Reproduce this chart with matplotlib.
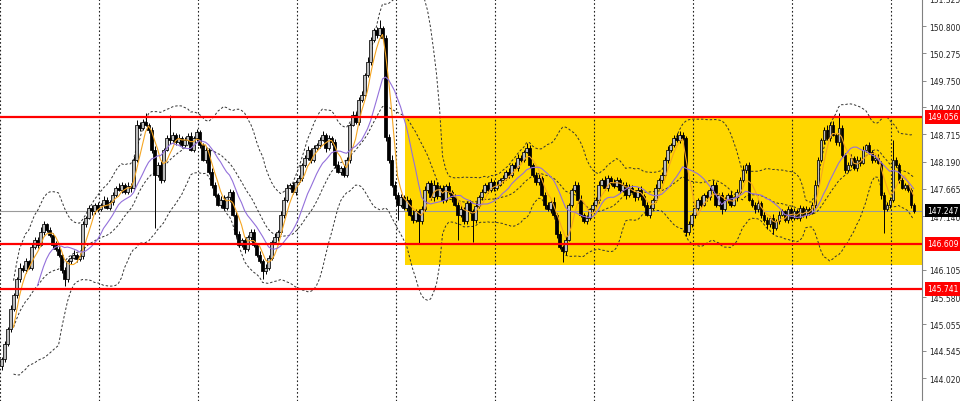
import numpy as np
import pandas as pd
import matplotlib
matplotlib.use("Agg")
import matplotlib.pyplot as plt
from matplotlib.transforms import blended_transform_factory

# close of every bar (left to right)
closes = [
    144.38, 144.67, 144.96, 145.35, 145.63, 145.92, 146.15, 146.11, 146.27, 146.15, 146.54,
    146.69, 146.59, 146.84, 146.98, 146.88, 146.77, 146.59, 146.50, 146.40, 146.11, 145.92,
    146.27, 146.34, 146.40, 146.31, 146.38, 146.98, 147.11, 147.30, 147.23, 147.36, 147.27,
    147.36, 147.46, 147.30, 147.42, 147.55, 147.69, 147.65, 147.75, 147.61, 147.73, 147.69,
    148.23, 148.90, 148.84, 148.96, 148.90, 148.80, 148.42, 147.94, 148.13, 147.84, 148.42,
    148.65, 148.61, 148.71, 148.57, 148.65, 148.51, 148.61, 148.69, 148.42, 148.65, 148.76,
    148.51, 148.23, 148.42, 148.00, 147.75, 147.55, 147.36, 147.46, 147.30, 147.50, 147.61,
    147.17, 146.79, 146.59, 146.69, 146.50, 146.73, 146.84, 146.59, 146.40, 146.27, 146.08,
    146.15, 146.34, 146.65, 146.73, 146.84, 147.17, 147.46, 147.69, 147.75, 147.61, 147.80,
    147.88, 148.13, 148.26, 148.42, 148.23, 148.46, 148.51, 148.61, 148.71, 148.46, 148.65,
    148.57, 148.13, 148.00, 148.07, 147.94, 148.23, 148.90, 149.09, 148.96, 149.38, 149.48,
    149.86, 150.11, 150.53, 150.72, 150.63, 150.76, 150.57, 148.67, 148.23, 147.75, 147.55,
    147.36, 147.50, 147.30, 147.46, 147.17, 147.07, 147.23, 147.04, 147.27, 147.65, 147.78,
    147.50, 147.75, 147.53, 147.69, 147.46, 147.73, 147.61, 147.50, 147.36, 147.17, 147.27,
    147.04, 147.40, 147.23, 147.07, 147.34, 147.50, 147.61, 147.75, 147.65, 147.80, 147.69,
    147.75, 147.84, 147.88, 148.00, 147.94, 148.13, 148.07, 148.26, 148.23, 148.38, 148.46,
    148.13, 147.94, 147.80, 147.88, 147.55, 147.36, 147.27, 147.42, 147.17, 146.79, 146.54,
    146.46, 146.69, 147.36, 147.65, 147.75, 147.46, 147.17, 147.04, 147.11, 147.27, 147.36,
    147.46, 147.75, 147.84, 147.69, 147.88, 147.78, 147.73, 147.84, 147.65, 147.75, 147.55,
    147.69, 147.61, 147.50, 147.65, 147.53, 147.36, 147.17, 147.30, 147.46, 147.69, 147.84,
    147.94, 148.23, 148.42, 148.51, 148.65, 148.61, 148.71, 148.65, 146.84, 146.98, 147.17,
    147.30, 147.46, 147.36, 147.55, 147.50, 147.65, 147.75, 147.36, 147.55, 147.27, 147.46,
    147.55, 147.36, 147.50, 147.61, 147.84, 148.03, 148.13, 147.46, 147.36, 147.27, 147.40,
    147.17, 147.07, 146.98, 147.11, 146.92, 147.04, 147.17, 147.23, 147.07, 147.27, 147.11,
    147.23, 147.11, 147.30, 147.17, 147.27, 147.21, 147.36, 147.75, 148.23, 148.61, 148.80,
    148.65, 148.90, 148.71, 148.57, 148.84, 148.32, 148.03, 148.13, 148.26, 148.07, 148.23,
    148.17, 148.42, 148.51, 148.38, 148.23, 148.26, 148.17, 147.55, 147.27, 147.36, 147.46,
    148.23, 148.13, 147.84, 147.69, 147.75, 147.65, 147.36, 147.247,
]
first_open = 144.25

# wick lengths above / below the body, in 0.01
up_wicks = [
    5, 6, 4, 7, 3, 5, 8, 4, 6, 3, 7, 5, 4, 9, 6, 3, 5, 4, 7, 6, 3, 5, 4, 6, 8, 3, 5, 7, 4, 6, 5, 3, 6,
    4, 7, 5, 3, 6, 4, 8, 5, 3, 6, 4, 7, 9, 5, 6, 17, 4, 6, 8, 5, 7, 3, 6, 44, 5, 4, 7, 3, 6, 5, 8, 4, 6,
    5, 4, 6, 3, 7, 5, 4, 6, 8, 3, 5, 4, 6, 7, 3, 5, 4, 6, 5, 3, 7, 4, 6, 5, 3, 8, 4, 6, 5, 7, 3, 5, 4,
    6, 4, 5, 7, 3, 6, 4, 5, 8, 4, 6, 3, 5, 7, 4, 6, 5, 4, 8, 5, 6, 7, 4, 9, 6, 5, 7, 16, 4, 6, 5, 8, 6,
    5, 7, 4, 6, 3, 8, 5, 4, 6, 7, 3, 5, 9, 4, 6, 5, 3, 7, 4, 6, 5, 8, 4, 3, 6, 5, 7, 4, 6, 3, 5, 8, 4,
    6, 4, 5, 3, 7, 4, 6, 8, 5, 4, 9, 6, 3, 5, 7, 4, 6, 5, 3, 8, 4, 6, 5, 7, 4, 3, 6, 5, 8, 4, 6, 3, 5,
    4, 6, 3, 7, 5, 4, 8, 6, 3, 5, 4, 7, 6, 3, 5, 8, 4, 6, 5, 3, 7, 4, 6, 5, 8, 4, 6, 9, 7, 5, 3, 6, 4,
    5, 3, 6, 4, 7, 5, 8, 4, 3, 6, 5, 4, 7, 3, 6, 5, 9, 4, 6, 3, 5, 7, 4, 6, 5, 3, 8, 4, 6, 5, 3, 7, 4,
    6, 4, 5, 3, 7, 4, 6, 8, 5, 4, 6, 9, 5, 7, 4, 29, 6, 3, 5, 8, 4, 6, 5, 7, 3, 6, 4, 5, 8, 3, 6, 5, 4,
    38, 5, 4, 6, 3, 5, 4, 3,
]
down_wicks = [
    8, 5, 4, 6, 3, 7, 5, 4, 6, 3, 5, 4, 7, 3, 6, 5, 4, 8, 3, 5, 6, 13, 4, 5, 3, 6, 4, 7, 5, 3, 6, 4, 5,
    4, 6, 3, 5, 7, 4, 3, 6, 5, 4, 8, 3, 5, 6, 4, 3, 5, 7, 102, 4, 6, 5, 3, 7, 4, 6, 3, 5, 4, 8, 3, 5, 6,
    5, 3, 6, 4, 7, 5, 3, 6, 4, 5, 8, 3, 6, 4, 5, 7, 3, 6, 4, 5, 3, 15, 6, 4, 5, 3, 7, 4, 6, 5, 3, 4, 6,
    4, 6, 5, 3, 7, 4, 5, 6, 3, 8, 4, 5, 6, 3, 7, 5, 4, 6, 3, 5, 7, 4, 6, 3, 5, 4, 6, 5, 3, 8, 6, 5, 7,
    29, 5, 4, 6, 3, 7, 4, 41, 5, 3, 6, 4, 7, 5, 3, 6, 4, 5, 8, 3, 48, 4, 6, 5, 3, 42, 6, 4, 5, 3, 7, 4, 6,
    5, 3, 6, 4, 7, 5, 3, 6, 4, 5, 3, 7, 4, 6, 5, 3, 8, 4, 6, 5, 7, 4, 21, 6, 3, 5, 4, 7, 5, 3, 6, 4, 5,
    4, 6, 3, 5, 7, 4, 5, 3, 6, 4, 8, 5, 3, 6, 4, 7, 5, 3, 6, 4, 5, 3, 7, 4, 6, 5, 3, 4, 6, 5, 9, 7, 4,
    6, 4, 5, 3, 7, 4, 6, 5, 3, 8, 4, 6, 5, 3, 7, 4, 5, 6, 3, 4, 7, 5, 6, 4, 8, 5, 13, 4, 6, 3, 5, 7, 4,
    5, 3, 6, 4, 7, 5, 3, 6, 4, 5, 8, 4, 6, 3, 5, 7, 4, 6, 3, 5, 4, 6, 7, 3, 5, 4, 6, 5, 3, 7, 45, 4, 6,
    5, 4, 6, 3, 5, 4, 6, 5,
]

level_prices = [149.056, 146.609, 145.741]
bid_price = 147.247
zone_top = 149.056
zone_bottom = 146.19
zone_start_bar = 134.5
ytick_values = [151.325, 150.800, 150.275, 149.750, 149.240, 148.715, 148.190,
                147.665, 147.140, 146.105, 145.580, 145.055, 144.545, 144.020]
bars_per_grid = 33

c = np.array(closes)
o = np.array([first_open] + closes[:-1])
hi = np.maximum(o, c) + np.array(up_wicks) / 100
lo = np.minimum(o, c) - np.array(down_wicks) / 100
x = np.arange(len(c))

s = pd.Series(c)
ma_fast = s.rolling(5).mean()
ma_slow = s.rolling(13).mean()
bb_mid = s.rolling(20, min_periods=5).mean()
bb_sd = s.rolling(20, min_periods=5).std(ddof=0)

fig = plt.figure(figsize=(9.6, 4.02), dpi=100)
ax = fig.add_axes([0, 0, 922 / 960, 1])
ax.set_xlim(-0.5, 306.8)
ax.set_ylim(143.578, 151.299)

# yellow range box
ax.axhspan(zone_bottom, zone_top, xmin=(zone_start_bar + 0.5) / 307.3, xmax=1,
           color='#ffd700', lw=0, zorder=0.5)

for k in range(0, len(c) // bars_per_grid + 1):
    ax.axvline(k * bars_per_grid - 0.5, color='#222222', lw=0.8, ls=(0, (1.5, 2)), zorder=1)

ax.axhline(bid_price, color='#9a9a9a', lw=0.8, zorder=1.5)

# bollinger bands
for line in (bb_mid + 2 * bb_sd, bb_mid, bb_mid - 2 * bb_sd):
    ax.plot(x, line, color='#333333', lw=0.7, ls=(0, (2.5, 2)), zorder=2)

# candles
ax.vlines(x, lo, hi, color='black', lw=0.7, zorder=3)
bull = c >= o
ax.bar(x, np.abs(c - o), bottom=np.minimum(o, c), width=0.72,
       color=np.where(bull, '#bdbdbd', '#000000'), edgecolor='black', linewidth=0.55, zorder=3.1)

ax.plot(x, ma_fast, color='#f5a623', lw=0.8, zorder=4)
ax.plot(x, ma_slow, color='#9370db', lw=0.8, zorder=4)

for p in level_prices:
    ax.axhline(p, color='#ff0000', lw=1.6, zorder=5)

ax.yaxis.tick_right()
ax.set_yticks(ytick_values)
ax.set_yticklabels([f'{v:.3f}' for v in ytick_values])
ax.tick_params(axis='y', length=3, width=0.6, color='#777777', labelsize=5.5,
               labelcolor='#222222', pad=2)
ax.set_xticks([])
for side in ('top', 'left', 'bottom'):
    ax.spines[side].set_visible(False)
ax.spines['right'].set_color('#808080')
ax.spines['right'].set_linewidth(0.8)

tr = blended_transform_factory(ax.transAxes, ax.transData)
for p in level_prices:
    ax.text(1.006, p, f'{p:.3f}', transform=tr, ha='left', va='center', fontsize=5.5,
            color='white', clip_on=False, zorder=10,
            bbox=dict(boxstyle='square,pad=0.3', fc='#ff0000', ec='none'))
ax.text(1.006, bid_price, f'{bid_price:.3f}', transform=tr, ha='left', va='center',
        fontsize=5.5, color='white', clip_on=False, zorder=10,
        bbox=dict(boxstyle='square,pad=0.3', fc='black', ec='none'))

fig.savefig('out.png', dpi=100)
